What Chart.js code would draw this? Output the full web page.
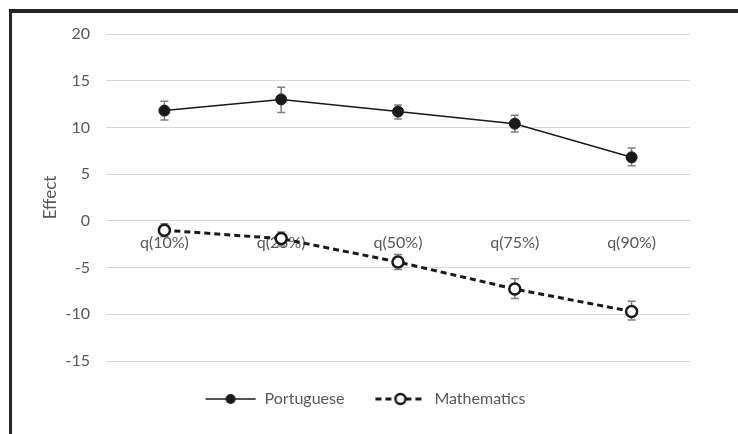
<!DOCTYPE html>
<html>
<head>
<meta charset="utf-8">
<script src="https://cdn.jsdelivr.net/npm/chart.js@4/dist/chart.umd.min.js"></script>
<style>
  html, body { margin: 0; padding: 0; background: #fff; }
  #wrap { position: relative; width: 738px; height: 434px; overflow: hidden; }
  #frame {
    position: absolute; left: 9px; top: 9px; right: 0; bottom: 0;
    border-left: 3px solid #262626; border-top: 4px solid #262626;
    pointer-events: none;
  }
  canvas { position: absolute; left: 0; top: 0; }
</style>
</head>
<body>
<div id="wrap">
  <canvas id="chart_1" width="738" height="434"></canvas>
  <div id="frame"></div>
</div>
<script>
// quantiles on the x axis
const categories = ['q(10%)', 'q(25%)', 'q(50%)', 'q(75%)', 'q(90%)'];

// Portuguese effect + error bar ends
const portuguese = [11.8, 13.0, 11.7, 10.4, 6.8];
const portugueseLow = [10.8, 11.6, 10.9, 9.5, 5.9];
const portugueseHigh = [12.8, 14.3, 12.4, 11.3, 7.8];

// Mathematics effect + error bar ends
const mathematics = [-1.0, -1.9, -4.4, -7.3, -9.7];
const mathematicsLow = [-1.7, -2.7, -5.2, -8.3, -10.6];
const mathematicsHigh = [-0.3, -1.2, -3.6, -6.2, -8.6];

const yTicks = [-15, -10, -5, 0, 5, 10, 15, 20];

const gray = '#595959';
const ink = '#1a1a1a';

// legend icon: short line with the marker in the middle
function legendIcon(dashed, filled){
    let c = document.createElement('canvas');
    c.width = 52; c.height = 14;
    let ctx = c.getContext('2d');
    ctx.strokeStyle = ink;
    ctx.lineWidth = dashed ? 3 : 1.5;
    if(dashed) ctx.setLineDash([6, 4]);
    ctx.beginPath();
    ctx.moveTo(1, 7); ctx.lineTo(51, 7);
    ctx.stroke();
    ctx.setLineDash([]);
    ctx.beginPath();
    ctx.arc(26, 7, 5, 0, Math.PI * 2);
    if(filled){
        ctx.fillStyle = ink;
        ctx.fill();
    } else {
        ctx.fillStyle = '#fff';
        ctx.fill();
        ctx.lineWidth = 2.5;
        ctx.stroke();
    }
    return c;
}

const errorBars = {
    id: 'errorBars',
    beforeDatasetsDraw(chart){
        const ctx = chart.ctx;
        const x = chart.scales.x;
        const y = chart.scales.y;
        const sets = [[portugueseLow, portugueseHigh], [mathematicsLow, mathematicsHigh]];
        ctx.save();
        ctx.strokeStyle = '#808080';
        ctx.lineWidth = 1.5;
        sets.forEach(s => {
            categories.forEach((c, i) => {
                let px = x.getPixelForValue(i);
                let lo = y.getPixelForValue(s[0][i]);
                let hi = y.getPixelForValue(s[1][i]);
                ctx.beginPath();
                ctx.moveTo(px, lo); ctx.lineTo(px, hi);
                ctx.moveTo(px - 4, lo); ctx.lineTo(px + 4, lo);
                ctx.moveTo(px - 4, hi); ctx.lineTo(px + 4, hi);
                ctx.stroke();
            });
        });
        ctx.restore();
    }
};

Chart.defaults.font.family = 'Lato, "Open Sans", sans-serif';
Chart.defaults.font.size = 16;
Chart.defaults.color = gray;

let chart = new Chart('chart_1', {
    type: 'line',
    data: {
        labels: categories,
        datasets: [{
            label: 'Portuguese',
            data: portuguese,
            borderColor: ink,
            borderWidth: 1.5,
            backgroundColor: ink,
            pointRadius: 5.5,
            pointBorderWidth: 1,
            pointStyle: 'circle',
            fill: false
        }, {
            label: 'Mathematics',
            data: mathematics,
            borderColor: ink,
            borderWidth: 3,
            borderDash: [6, 4],
            backgroundColor: '#fff',
            pointRadius: 5.5,
            pointBorderWidth: 2.5,
            fill: false
        }]
    },
    options: {
        responsive: false,
        animation: false,
        layout: { padding: { left: 40, right: 48, top: 34, bottom: 17 } },
        plugins: {
            tooltip: { enabled: false },
            legend: {
                position: 'bottom',
                labels: {
                    usePointStyle: true,
                    pointStyleWidth: 52,
                    padding: 30,
                    color: gray,
                    font: { size: 16 },
                    generateLabels: (ch) => [
                        { text: 'Portuguese', pointStyle: legendIcon(false, true), datasetIndex: 0, fontColor: gray, lineWidth: 0, strokeStyle: 'rgba(0,0,0,0)', fillStyle: 'rgba(0,0,0,0)' },
                        { text: 'Mathematics', pointStyle: legendIcon(true, false), datasetIndex: 1, fontColor: gray, lineWidth: 0, strokeStyle: 'rgba(0,0,0,0)', fillStyle: 'rgba(0,0,0,0)' }
                    ]
                }
            }
        },
        scales: {
            x: {
                type: 'category',
                position: { y: 0 },
                offset: true,
                grid: { display: false, drawTicks: false },
                border: { display: false },
                ticks: { padding: 12, color: gray }
            },
            y: {
                min: yTicks[0],
                max: yTicks[yTicks.length - 1],
                afterBuildTicks: (s) => { s.ticks = yTicks.map(v => ({ value: v })); },
                afterFit: (s) => { s.width = 66; },
                grid: { color: '#d9d9d9', lineWidth: 1, drawTicks: false },
                border: { display: false },
                ticks: { padding: 16, color: gray },
                title: { display: true, text: 'Effect', color: gray, padding: 0, font: { size: 17 } }
            }
        }
    },
    plugins: [errorBars]
});
</script>
</body>
</html>
